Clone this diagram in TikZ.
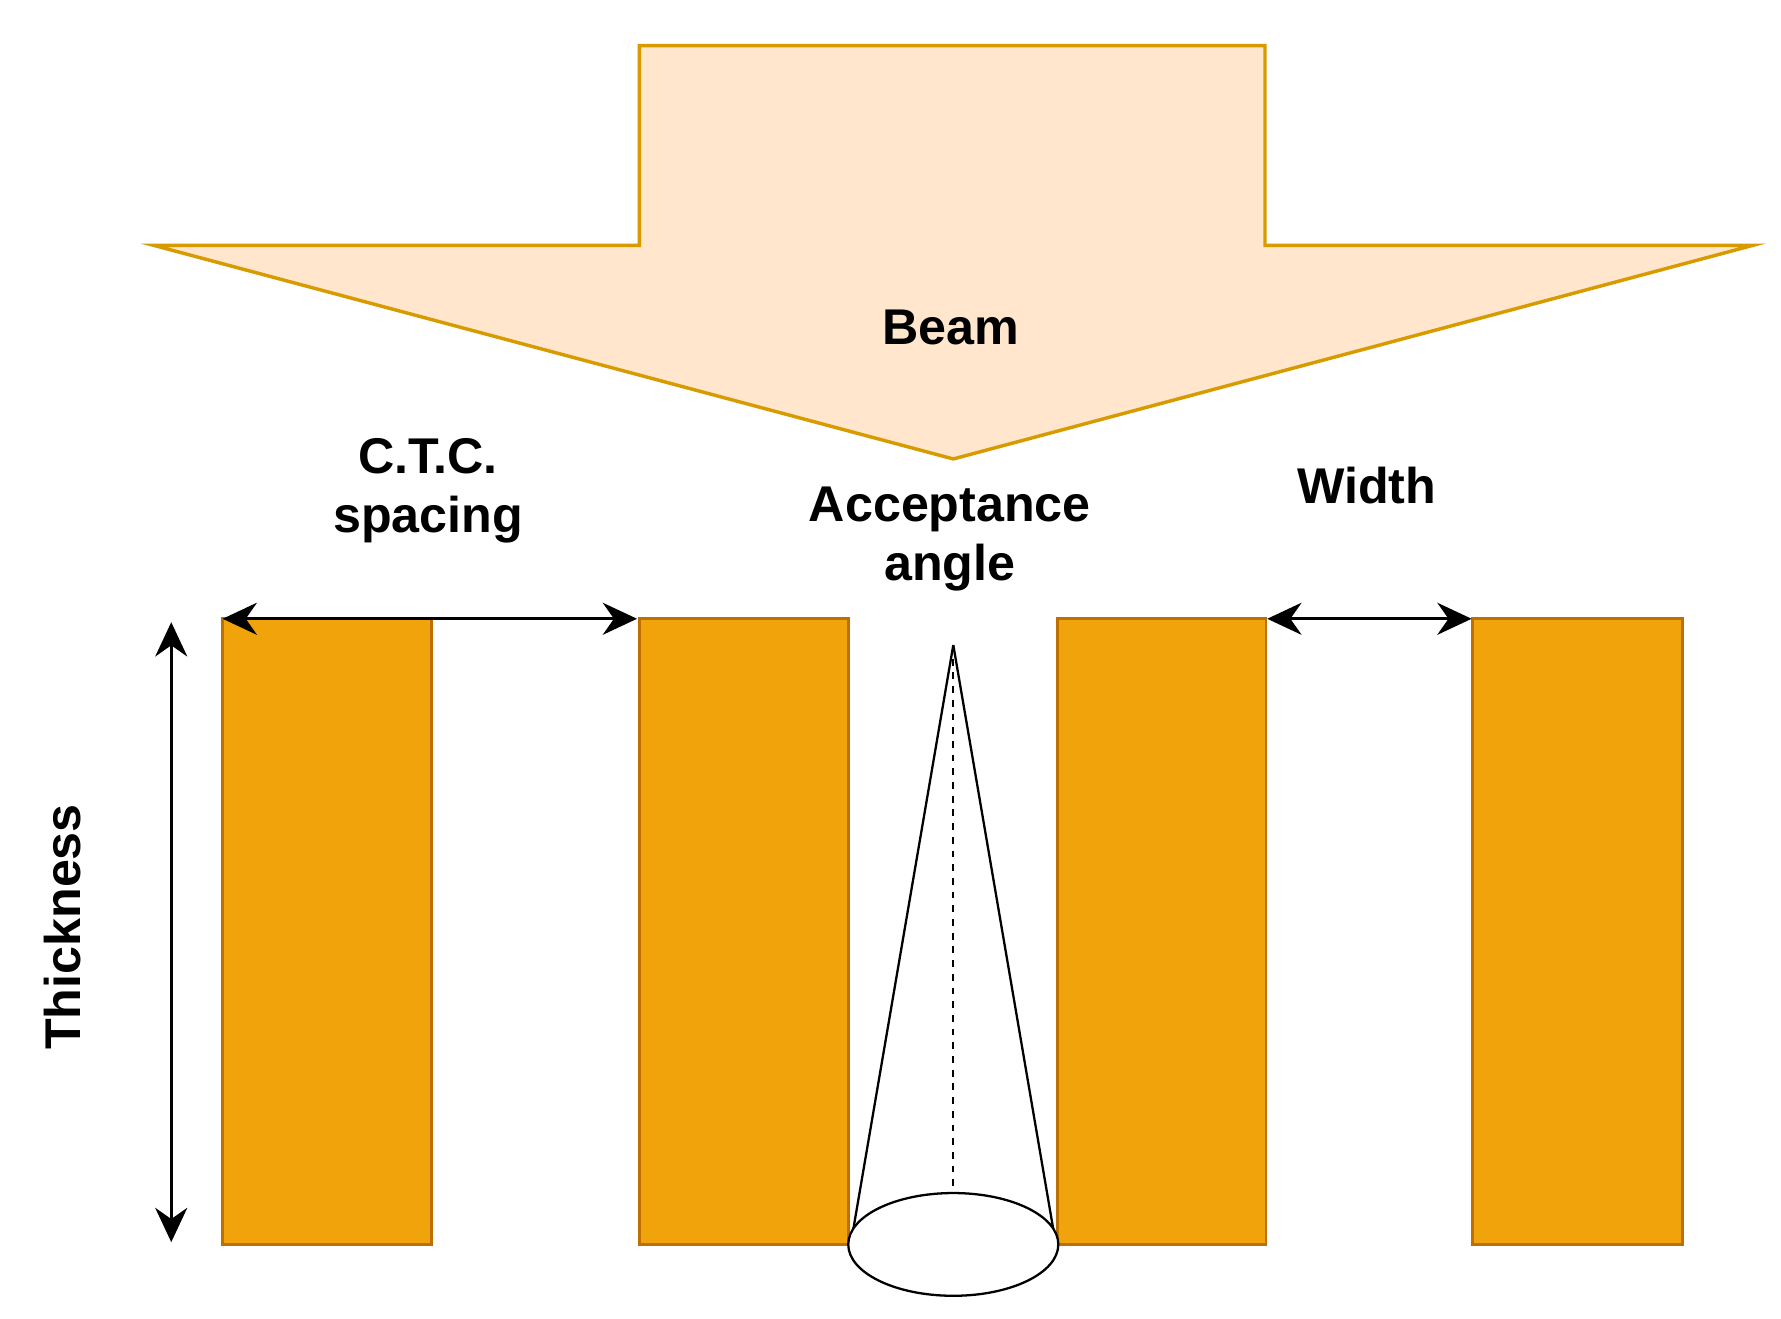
\documentclass[tikz,border=0pt]{standalone}
\usepackage{fontspec}
\setmainfont{Liberation Sans}
\usetikzlibrary{arrows.meta}
\definecolor{bar}{HTML}{F0A30A}
\definecolor{barline}{HTML}{BD7000}
\definecolor{beamfill}{HTML}{FFE6CC}
\definecolor{beamline}{HTML}{D79B00}
\begin{document}
\begin{tikzpicture}[x={(0.5pt,0)},y={(0,-0.5pt)},
  slab/.style={fill=bar,draw=barline,line width=1.2pt},
  dim/.style={line width=1.4pt,{Stealth[length=15pt,width=14pt]}-{Stealth[length=15pt,width=14pt]}},
  lbl/.style={font=\fontsize{22}{26}\selectfont\bfseries,align=center}]
\useasboundingbox (0,0) rectangle (1560,1155);
\fill[white] (0,0) rectangle (1560,1155);
\draw[fill=beamfill,draw=beamline,line width=1.5pt] (560,40) -- (1108,40) -- (1108,215) -- (1535,215) -- (835,402) -- (135,215) -- (560,215) -- cycle;
\node[lbl] (beam) at (833,287) {Beam};
\path[slab] (195,542) rectangle (378,1090);
\path[slab] (560,542) rectangle (743,1090);
\path[slab] (926,542) rectangle (1109,1090);
\path[slab] (1290,542) rectangle (1474,1090);
\coordinate (c1) at (195,542); \coordinate (c2) at (558,542);
\coordinate (w1) at (1110,542); \coordinate (w2) at (1289,542);
\coordinate (t1) at (150,545); \coordinate (t2) at (150,1088);
\draw[dim] (c1) -- (c2);
\draw[dim] (w1) -- (w2);
\draw[dim] (t1) -- (t2);
\coordinate (apex) at (835,565);
\coordinate (base) at (835,1045);
\draw[line width=1pt] (apex) -- (746,1085);
\draw[line width=1pt] (apex) -- (924,1085);
\draw[fill=white,line width=1pt] (835,1090) ellipse [x radius=92, y radius=45];
\draw[dashed,line width=1pt] (apex) -- (base);
\node[lbl] (ctc) at (375,430) {C.T.C.\\spacing};
\node[lbl] (acc) at (832,472) {Acceptance\\angle};
\node[lbl] (wid) at (1197,425) {Width};
\node[lbl,rotate=90] (thk) at (55,812) {Thickness};
\end{tikzpicture}
\end{document}
